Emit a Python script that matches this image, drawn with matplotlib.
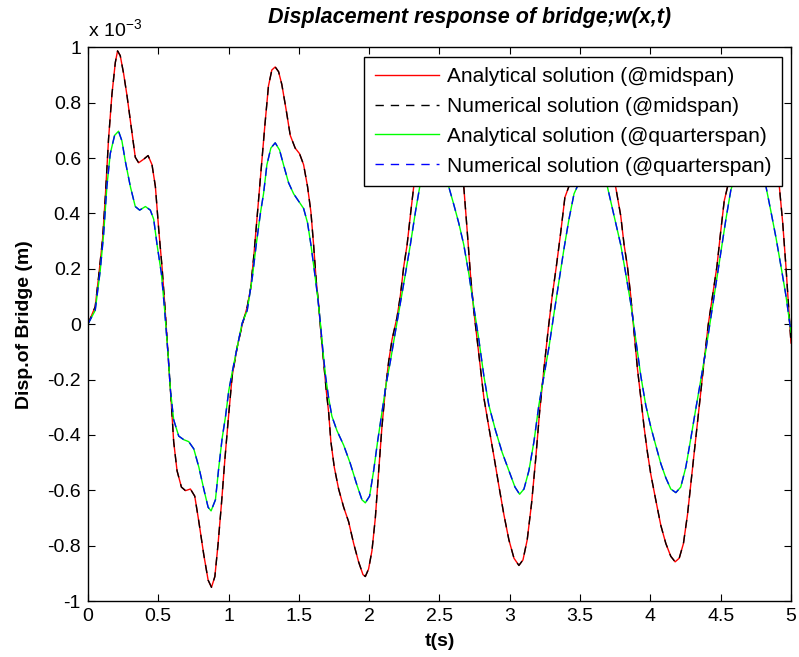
import numpy as np
import matplotlib
matplotlib.use('Agg')
import matplotlib.pyplot as plt
from matplotlib.ticker import FuncFormatter

plt.rcParams['font.family'] = ['Liberation Sans', 'DejaVu Sans']

# midspan displacement (x 1e-3 m)
t_mid = [0.0, 0.052, 0.076, 0.105, 0.124, 0.147, 0.171, 0.195, 0.211, 0.23, 0.254, 0.278,
         0.309, 0.337, 0.361, 0.397, 0.428, 0.456, 0.48, 0.504, 0.527, 0.546, 0.563, 0.58,
         0.594, 0.61, 0.634, 0.665, 0.694, 0.729, 0.76, 0.789, 0.824, 0.855, 0.879, 0.903,
         0.926, 0.95, 0.974, 0.998, 1.026, 1.062, 1.097, 1.133, 1.157, 1.18, 1.204, 1.228,
         1.259, 1.284, 1.308, 1.332, 1.356, 1.379, 1.41, 1.439, 1.474, 1.505, 1.534, 1.562,
         1.586, 1.605, 1.624, 1.64, 1.657, 1.676, 1.695, 1.712, 1.728, 1.752, 1.783, 1.819,
         1.854, 1.89, 1.925, 1.956, 1.973, 1.996, 2.02, 2.044, 2.068, 2.091, 2.115, 2.139,
         2.163, 2.198, 2.222, 2.246, 2.27, 2.293, 2.317, 2.36, 2.4, 2.44, 2.48, 2.53,
         2.58, 2.63, 2.673, 2.697, 2.72, 2.744, 2.768, 2.792, 2.816, 2.851, 2.887, 2.922,
         2.958, 2.994, 3.03, 3.065, 3.094, 3.124, 3.155, 3.184, 3.212, 3.243, 3.274, 3.302,
         3.331, 3.361, 3.392, 3.42, 3.46, 3.51, 3.56, 3.61, 3.66, 3.71, 3.753, 3.789,
         3.813, 3.837, 3.86, 3.884, 3.908, 3.932, 3.955, 3.979, 4.003, 4.038, 4.074, 4.11,
         4.145, 4.176, 4.205, 4.235, 4.264, 4.292, 4.323, 4.354, 4.382, 4.411, 4.442, 4.473,
         4.501, 4.525, 4.549, 4.59, 4.63, 4.68, 4.73, 4.78, 4.83, 4.88, 4.917, 4.941,
         4.964, 4.988, 5.0]
w_mid = [0.0, 0.063, 0.17, 0.31, 0.46, 0.67, 0.83, 0.945, 0.987, 0.97, 0.905, 0.826,
         0.708, 0.603, 0.583, 0.596, 0.609, 0.576, 0.497, 0.34, 0.208, 0.076, -0.055, -0.187,
         -0.292, -0.424, -0.529, -0.588, -0.601, -0.595, -0.621, -0.713, -0.832, -0.924, -0.95, -0.911,
         -0.792, -0.647, -0.489, -0.345, -0.187, -0.082, -0.003, 0.063, 0.129, 0.247, 0.392, 0.537,
         0.721, 0.86, 0.918, 0.929, 0.912, 0.866, 0.774, 0.682, 0.636, 0.616, 0.576, 0.497,
         0.405, 0.287, 0.155, 0.076, -0.029, -0.134, -0.239, -0.318, -0.424, -0.516, -0.595, -0.661,
         -0.713, -0.792, -0.858, -0.904, -0.911, -0.884, -0.818, -0.7, -0.529, -0.371, -0.239, -0.134,
         -0.055, 0.024, 0.103, 0.208, 0.287, 0.392, 0.497, 0.7, 0.84, 0.9, 0.89, 0.8,
         0.68, 0.6, 0.497, 0.339, 0.182, 0.05, -0.055, -0.161, -0.266, -0.371, -0.476, -0.582,
         -0.687, -0.779, -0.845, -0.871, -0.851, -0.779, -0.647, -0.489, -0.318, -0.161, -0.016, 0.103,
         0.208, 0.326, 0.458, 0.497, 0.68, 0.83, 0.88, 0.85, 0.75, 0.62, 0.497, 0.392,
         0.287, 0.208, 0.103, -0.029, -0.161, -0.266, -0.371, -0.463, -0.542, -0.634, -0.726, -0.792,
         -0.838, -0.858, -0.845, -0.792, -0.687, -0.555, -0.411, -0.266, -0.134, -0.003, 0.103, 0.208,
         0.339, 0.445, 0.497, 0.68, 0.82, 0.87, 0.84, 0.74, 0.64, 0.56, 0.497, 0.366,
         0.208, 0.024, -0.068]

# quarterspan displacement (x 1e-3 m)
t_qtr = [0.0, 0.052, 0.088, 0.112, 0.135, 0.159, 0.19, 0.218, 0.242, 0.266, 0.302, 0.337,
         0.368, 0.409, 0.444, 0.468, 0.492, 0.523, 0.546, 0.57, 0.587, 0.61, 0.646, 0.682,
         0.717, 0.753, 0.789, 0.824, 0.855, 0.876, 0.907, 0.931, 0.955, 0.979, 1.002, 1.026,
         1.062, 1.097, 1.133, 1.169, 1.197, 1.228, 1.249, 1.273, 1.301, 1.332, 1.363, 1.391,
         1.427, 1.463, 1.498, 1.534, 1.562, 1.586, 1.61, 1.633, 1.652, 1.671, 1.69, 1.712,
         1.735, 1.771, 1.819, 1.866, 1.914, 1.949, 1.973, 2.003, 2.032, 2.06, 2.091, 2.122,
         2.151, 2.186, 2.222, 2.258, 2.293, 2.329, 2.36, 2.4, 2.45, 2.5, 2.566, 2.602,
         2.637, 2.673, 2.709, 2.744, 2.78, 2.816, 2.851, 2.899, 2.946, 2.994, 3.037, 3.07,
         3.101, 3.136, 3.172, 3.207, 3.243, 3.279, 3.314, 3.35, 3.386, 3.421, 3.457, 3.48,
         3.53, 3.58, 3.64, 3.694, 3.753, 3.789, 3.825, 3.86, 3.896, 3.932, 3.967, 4.003,
         4.038, 4.074, 4.11, 4.145, 4.181, 4.216, 4.252, 4.288, 4.323, 4.359, 4.394, 4.43,
         4.466, 4.501, 4.537, 4.572, 4.63, 4.69, 4.76, 4.822, 4.858, 4.893, 4.929, 4.964,
         5.0]
w_qtr = [0.0, 0.05, 0.195, 0.326, 0.497, 0.616, 0.682, 0.697, 0.662, 0.589, 0.497, 0.425,
         0.412, 0.425, 0.412, 0.379, 0.287, 0.182, 0.05, -0.108, -0.239, -0.345, -0.404, -0.417,
         -0.424, -0.45, -0.516, -0.595, -0.661, -0.674, -0.634, -0.516, -0.411, -0.332, -0.239, -0.174,
         -0.082, 0.004, 0.05, 0.168, 0.287, 0.405, 0.471, 0.576, 0.636, 0.655, 0.629, 0.576,
         0.511, 0.471, 0.445, 0.418, 0.366, 0.287, 0.195, 0.103, 0.011, -0.095, -0.187, -0.266,
         -0.332, -0.384, -0.437, -0.503, -0.582, -0.634, -0.645, -0.621, -0.529, -0.424, -0.318, -0.213,
         -0.134, -0.029, 0.076, 0.182, 0.287, 0.405, 0.497, 0.58, 0.62, 0.6, 0.497, 0.432,
         0.366, 0.287, 0.182, 0.063, -0.055, -0.187, -0.292, -0.384, -0.463, -0.529, -0.588, -0.614,
         -0.595, -0.529, -0.424, -0.292, -0.187, -0.082, 0.037, 0.155, 0.274, 0.379, 0.471, 0.497,
         0.58, 0.6, 0.58, 0.497, 0.366, 0.287, 0.182, 0.076, -0.055, -0.187, -0.292, -0.371,
         -0.437, -0.503, -0.555, -0.595, -0.608, -0.588, -0.516, -0.411, -0.305, -0.2, -0.095, 0.024,
         0.142, 0.261, 0.379, 0.484, 0.58, 0.6, 0.56, 0.497, 0.405, 0.313, 0.208, 0.103,
         -0.029]

# numerical solution sits on top of the analytical one
t_mid_num, w_mid_num = t_mid, w_mid
t_qtr_num, w_qtr_num = t_qtr, w_qtr

labels = ['Analytical solution (@midspan)', 'Numerical solution (@midspan)',
          'Analytical solution (@quarterspan)', 'Numerical solution (@quarterspan)']


def fmt(v):
    v = round(v, 2)
    if abs(v) < 1e-9:
        v = 0.0
    return '%g' % v


fig = plt.figure(figsize=(7.99, 6.57), dpi=100)
ax = fig.add_axes([0.110, 0.085, 0.880, 0.843])

sc = 1e-3
ax.plot(t_mid, np.array(w_mid) * sc, color='#ff0000', lw=1.0, label=labels[0])
ax.plot(t_mid_num, np.array(w_mid_num) * sc, color='black', lw=1.0, ls=(0, (6, 5)), label=labels[1])
ax.plot(t_qtr, np.array(w_qtr) * sc, color='#00ff00', lw=1.0, label=labels[2])
ax.plot(t_qtr_num, np.array(w_qtr_num) * sc, color='#0000ff', lw=1.0, ls=(0, (6, 5)), label=labels[3])

ax.set_xlim(0, 5)
ax.set_ylim(-1e-3, 1e-3)
ax.set_xticks(np.arange(0, 5.01, 0.5))
ax.set_yticks(np.arange(-1, 1.01, 0.2) * sc)
ax.xaxis.set_major_formatter(FuncFormatter(lambda v, p: fmt(v)))
ax.yaxis.set_major_formatter(FuncFormatter(lambda v, p: fmt(v / sc)))
ax.tick_params(direction='in', top=True, right=True, length=5, width=0.8, labelsize=14, pad=5)
for s in ax.spines.values():
    s.set_linewidth(1.0)

ax.text(0.0, 1.012, r'x 10$^{\mathregular{-3}}$', transform=ax.transAxes, fontsize=14,
        ha='left', va='bottom')
fig.text(470 / 799, 1 - 18 / 657, 'Displacement response of bridge;w(x,t)', fontsize=15.5,
         fontweight='bold', style='italic', ha='center', va='center')
ax.set_xlabel('t(s)', fontsize=14, fontweight='bold', labelpad=6)
ax.set_ylabel('Disp.of Bridge (m)', fontsize=14, fontweight='bold', labelpad=10)

leg = ax.legend(loc='upper right', fontsize=15, handlelength=3.1, handletextpad=0.35,
                labelspacing=0.52, borderaxespad=0.45, borderpad=0.5, fancybox=False,
                framealpha=1, edgecolor='black')
leg.get_frame().set_linewidth(1.0)

fig.savefig('out.png', dpi=100)
